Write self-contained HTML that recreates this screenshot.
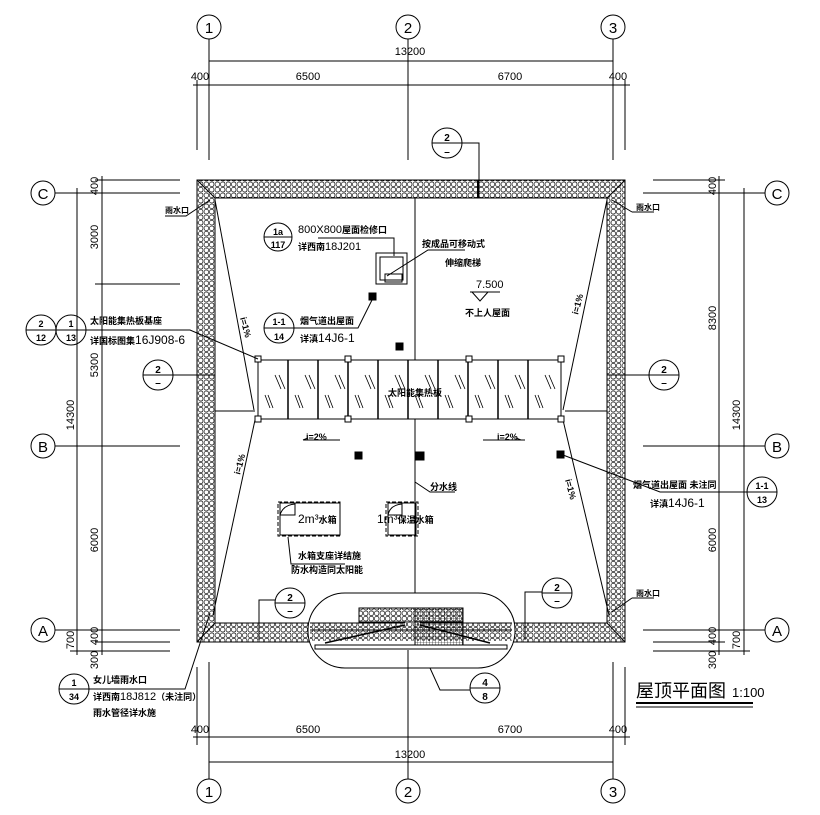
<!DOCTYPE html>
<html><head><meta charset="utf-8"><style>
html,body{margin:0;padding:0;background:#fff}
svg{display:block}
text{font-family:"Liberation Sans","Noto Sans CJK SC",sans-serif;fill:#000}
.c{font-family:"Noto Sans CJK SC","WenQuanYi Zen Hei",sans-serif;font-weight:bold}
</style></head><body>
<svg width="820" height="815" viewBox="0 0 820 815" xmlns="http://www.w3.org/2000/svg">
<defs>
<pattern id="h" width="5.5" height="5.5" patternUnits="userSpaceOnUse">
<rect x="0.6" y="0.6" width="4.3" height="4.3" rx="1.5" fill="none" stroke="#000" stroke-width="0.6"/>
</pattern>
<pattern id="g" width="3" height="3" patternUnits="userSpaceOnUse">
<path d="M0 0H3M0 0V3" stroke="#000" stroke-width="0.6"/>
</pattern>
</defs>
<g stroke="#000" fill="none" stroke-width="1">
<circle cx="209" cy="27" r="12"/><circle cx="408" cy="27" r="12"/><circle cx="613" cy="27" r="12"/>
<circle cx="209" cy="791" r="12"/><circle cx="408" cy="791" r="12"/><circle cx="613" cy="791" r="12"/>
<line x1="209" y1="39" x2="209" y2="95"/><line x1="408" y1="39" x2="408" y2="95"/><line x1="613" y1="39" x2="613" y2="95"/>
<line x1="197" y1="80" x2="197" y2="90"/><line x1="625" y1="80" x2="625" y2="90"/>
<line x1="209" y1="61" x2="613" y2="61"/><line x1="193" y1="85" x2="630" y2="85"/>
<line x1="197" y1="85" x2="197" y2="150"/><line x1="625" y1="85" x2="625" y2="150"/>
<line x1="209" y1="95" x2="209" y2="160"/><line x1="408" y1="95" x2="408" y2="160"/><line x1="613" y1="95" x2="613" y2="160"/>
<line x1="209" y1="662" x2="209" y2="779"/><line x1="408" y1="668" x2="408" y2="779"/><line x1="613" y1="662" x2="613" y2="779"/>
<line x1="197" y1="667" x2="197" y2="745"/><line x1="625" y1="667" x2="625" y2="745"/>
<line x1="193" y1="737" x2="630" y2="737"/><line x1="209" y1="762" x2="613" y2="762"/>
<circle cx="43" cy="193" r="12"/><circle cx="43" cy="446" r="12"/><circle cx="43" cy="630" r="12"/>
<line x1="55" y1="193" x2="180" y2="193"/><line x1="55" y1="446" x2="180" y2="446"/><line x1="55" y1="630" x2="180" y2="630"/>
<line x1="95" y1="180" x2="180" y2="180"/><line x1="95" y1="284" x2="180" y2="284"/>
<line x1="95" y1="642" x2="170" y2="642"/><line x1="70" y1="651" x2="170" y2="651"/>
<line x1="77" y1="188" x2="77" y2="655"/><line x1="102" y1="176" x2="102" y2="655"/>
<circle cx="777" cy="193" r="12"/><circle cx="777" cy="446" r="12"/><circle cx="777" cy="630" r="12"/>
<line x1="643" y1="193" x2="765" y2="193"/><line x1="643" y1="446" x2="765" y2="446"/><line x1="643" y1="630" x2="765" y2="630"/>
<line x1="653" y1="180" x2="725" y2="180"/><line x1="653" y1="642" x2="725" y2="642"/><line x1="653" y1="651" x2="750" y2="651"/>
<line x1="719" y1="176" x2="719" y2="655"/><line x1="744" y1="188" x2="744" y2="655"/>
<path d="M197 180H625V642H197Z M215 198V623H607V198Z" fill="url(#h)" fill-rule="evenodd" stroke="none"/>
<rect x="197" y="180" width="428" height="462"/>
<rect x="215" y="198" width="392" height="425"/>
<line x1="197" y1="180" x2="215" y2="198"/><line x1="625" y1="180" x2="607" y2="198"/>
<line x1="197" y1="642" x2="215" y2="623"/><line x1="625" y1="642" x2="607" y2="623"/>
<line x1="478" y1="180" x2="478" y2="198" stroke-width="2"/>
<line x1="415" y1="198" x2="415" y2="600"/>
<line x1="215" y1="200" x2="254" y2="410"/><line x1="255" y1="420" x2="213" y2="615"/>
<line x1="607" y1="200" x2="563" y2="410"/><line x1="563" y1="420" x2="609" y2="615"/>
<line x1="215" y1="411" x2="255" y2="411"/><line x1="565" y1="411" x2="607" y2="411"/>
<rect x="258" y="360" width="303" height="59" fill="#fff"/>
<g stroke-width="1.5"><line x1="288" y1="360" x2="288" y2="419"/><line x1="318" y1="360" x2="318" y2="419"/><line x1="348" y1="360" x2="348" y2="419"/><line x1="378" y1="360" x2="378" y2="419"/><line x1="408" y1="360" x2="408" y2="419"/><line x1="438" y1="360" x2="438" y2="419"/><line x1="468" y1="360" x2="468" y2="419"/><line x1="498" y1="360" x2="498" y2="419"/><line x1="528" y1="360" x2="528" y2="419"/></g>
<g stroke-width="0.8">
<path d="M275 375l6 14M279 375l6 14M265 395l5 13M268 395l5 13"/>
<path d="M305 375l6 14M309 375l6 14M295 395l5 13M298 395l5 13"/>
<path d="M335 375l6 14M339 375l6 14M325 395l5 13M328 395l5 13"/>
<path d="M365 375l6 14M369 375l6 14M355 395l5 13M358 395l5 13"/>
<path d="M395 375l6 14M399 375l6 14M385 395l5 13M388 395l5 13"/>
<path d="M425 375l6 14M429 375l6 14M415 395l5 13M418 395l5 13"/>
<path d="M455 375l6 14M459 375l6 14M445 395l5 13M448 395l5 13"/>
<path d="M485 375l6 14M489 375l6 14M475 395l5 13M478 395l5 13"/>
<path d="M515 375l6 14M519 375l6 14M505 395l5 13M508 395l5 13"/>
<path d="M545 375l6 14M549 375l6 14M535 395l5 13M538 395l5 13"/>
</g>
<g fill="#fff"><rect x="255" y="356" width="6" height="6"/><rect x="345" y="356" width="6" height="6"/><rect x="466" y="356" width="6" height="6"/><rect x="558" y="356" width="6" height="6"/>
<rect x="255" y="416" width="6" height="6"/><rect x="345" y="416" width="6" height="6"/><rect x="466" y="416" width="6" height="6"/><rect x="558" y="416" width="6" height="6"/></g>
<g fill="#000"><rect x="369" y="293" width="7" height="7"/><rect x="396" y="343" width="7" height="7"/><rect x="355" y="452" width="7" height="7"/><rect x="416" y="452" width="8" height="8"/><rect x="557" y="451" width="7" height="7"/></g>
<rect x="376" y="253" width="31" height="31"/><rect x="380" y="257" width="23" height="23"/><rect x="385" y="274" width="17" height="8"/>
<path d="M318 238H394V256"/><path d="M387 276L428 250H465"/>
<path d="M470 292H500M472 292L480 301L488 292"/>
<g stroke-dasharray="4,2"><rect x="278" y="502" width="62" height="34"/><rect x="386" y="502" width="32" height="34"/></g>
<rect x="280" y="503" width="60" height="32"/><rect x="388" y="503" width="28" height="32"/>
<path d="M280 515Q283 505 295 504V515H280"/><path d="M388 515Q390 505 402 504V515H388"/>
<path d="M288 537L291 564H345"/><path d="M415 482L430 492H455"/>
<path d="M303 440H340M303 440l5 -2M483 440H525M521 440l-5 -2"/>
<rect x="308" y="593" width="207" height="75" rx="37" fill="#fff"/>
<rect x="359" y="608" width="104" height="14" fill="url(#h)"/>
<rect x="415" y="608" width="48" height="40" fill="url(#g)"/>
<path d="M310 623H405M420 623H512M310 630H512" />
<rect x="310" y="623" width="202" height="18" fill="url(#h)" stroke="none"/>
<path d="M325 643L405 625M420 625L490 643" stroke-width="1.5"/>
<rect x="315" y="645" width="192" height="4" fill="#fff"/>
<line x1="408" y1="650" x2="408" y2="668"/>
<path d="M430 668L440 690H470"/>
<circle cx="485" cy="688" r="15"/><line x1="470" y1="688" x2="500" y2="688"/>
<circle cx="447" cy="143" r="15"/><line x1="432" y1="143" x2="462" y2="143"/><path d="M462 143H479V198"/>
<circle cx="158" cy="375" r="15"/><line x1="143" y1="375" x2="173" y2="375"/><line x1="173" y1="375" x2="215" y2="375"/>
<circle cx="664" cy="375" r="15"/><line x1="649" y1="375" x2="679" y2="375"/><line x1="607" y1="375" x2="649" y2="375"/>
<circle cx="290" cy="603" r="15"/><line x1="275" y1="603" x2="305" y2="603"/><path d="M275 600H259V640"/>
<circle cx="557" cy="593" r="15"/><line x1="542" y1="593" x2="572" y2="593"/><path d="M542 592H525V640"/>
<circle cx="278" cy="237" r="14"/><line x1="264" y1="237" x2="292" y2="237"/>
<circle cx="279" cy="328" r="15"/><line x1="264" y1="328" x2="294" y2="328"/><path d="M294 328H358L372 300"/>
<circle cx="41" cy="330" r="15"/><circle cx="71" cy="330" r="15"/><line x1="26" y1="330" x2="56" y2="330"/><path d="M56 330H190L258 359"/>
<circle cx="762" cy="492" r="15"/><line x1="747" y1="492" x2="777" y2="492"/><path d="M747 492H660L563 455"/>
<circle cx="74" cy="689" r="15"/><line x1="59" y1="689" x2="89" y2="689"/><path d="M89 689H185L210 613"/>
<path d="M165 216H186L210 200"/><path d="M632 212H654M632 212L612 200"/>
<path d="M632 598H654M632 598L612 612"/>
<line x1="636" y1="703" x2="753" y2="703" stroke-width="2"/><line x1="636" y1="707" x2="753" y2="707"/>
</g>
<g font-size="15" text-anchor="middle">
<text x="209" y="33">1</text><text x="408" y="33">2</text><text x="613" y="33">3</text>
<text x="209" y="797">1</text><text x="408" y="797">2</text><text x="613" y="797">3</text>
<text x="43" y="199">C</text><text x="43" y="452">B</text><text x="43" y="636">A</text>
<text x="777" y="199">C</text><text x="777" y="452">B</text><text x="777" y="636">A</text>
</g>
<g font-size="11" text-anchor="middle">
<text x="410" y="55">13200</text><text x="200" y="80">400</text><text x="308" y="80">6500</text><text x="510" y="80">6700</text><text x="618" y="80">400</text>
<text x="200" y="733">400</text><text x="308" y="733">6500</text><text x="510" y="733">6700</text><text x="618" y="733">400</text><text x="410" y="758">13200</text>
<text transform="translate(98,186) rotate(-90)">400</text>
<text transform="translate(98,237) rotate(-90)">3000</text>
<text transform="translate(98,365) rotate(-90)">5300</text>
<text transform="translate(74,415) rotate(-90)">14300</text>
<text transform="translate(98,540) rotate(-90)">6000</text>
<text transform="translate(98,636) rotate(-90)">400</text>
<text transform="translate(74,640) rotate(-90)">700</text>
<text transform="translate(98,660) rotate(-90)">300</text>
<text transform="translate(716,186) rotate(-90)">400</text>
<text transform="translate(716,318) rotate(-90)">8300</text>
<text transform="translate(740,415) rotate(-90)">14300</text>
<text transform="translate(716,540) rotate(-90)">6000</text>
<text transform="translate(716,636) rotate(-90)">400</text>
<text transform="translate(740,640) rotate(-90)">700</text>
<text transform="translate(716,660) rotate(-90)">300</text>
</g>
<g font-size="10" text-anchor="middle" font-weight="bold">
<text x="447" y="141">2</text><text x="447" y="155">–</text>
<text x="158" y="373">2</text><text x="158" y="386">–</text>
<text x="664" y="373">2</text><text x="664" y="386">–</text>
<text x="290" y="601">2</text><text x="290" y="614">–</text>
<text x="557" y="591">2</text><text x="557" y="604">–</text>
<text x="485" y="686">4</text><text x="485" y="700">8</text>
<text x="278" y="235" font-size="9">1a</text><text x="278" y="248" font-size="9">117</text>
<text x="279" y="325" font-size="9">1-1</text><text x="279" y="340" font-size="9">14</text>
<text x="41" y="327" font-size="9">2</text><text x="41" y="341" font-size="9">12</text>
<text x="71" y="327" font-size="9">1</text><text x="71" y="341" font-size="9">13</text>
<text x="762" y="489" font-size="9">1-1</text><text x="762" y="503" font-size="9">13</text>
<text x="74" y="686" font-size="9">1</text><text x="74" y="700" font-size="9">34</text>
</g>
<g font-size="9" class="c">
<text x="298" y="233"><tspan font-family="Liberation Sans" font-weight="normal" font-size="11">800X800</tspan>屋面检修口</text>
<text x="298" y="250">详西南<tspan font-family="Liberation Sans" font-weight="normal" font-size="11">18J201</tspan></text>
<text x="422" y="247">按成品可移动式</text><text x="445" y="266">伸缩爬梯</text>
<text x="476" y="288" font-family="Liberation Sans" font-weight="normal" font-size="11">7.500</text>
<text x="465" y="316">不上人屋面</text>
<text x="300" y="324">烟气道出屋面</text>
<text x="300" y="342">详滇<tspan font-family="Liberation Sans" font-weight="normal" font-size="12">14J6-1</tspan></text>
<text x="90" y="324">太阳能集热板基座</text>
<text x="90" y="344">详国标图集<tspan font-family="Liberation Sans" font-weight="normal" font-size="12">16J908-6</tspan></text>
<text x="388" y="396">太阳能集热板</text>
<text x="306" y="440">i=2%</text><text x="497" y="440">i=2%</text>
<text x="430" y="490">分水线</text>
<text x="298" y="523"><tspan font-family="Liberation Sans" font-weight="normal" font-size="12">2m³</tspan>水箱</text>
<text x="377" y="523"><tspan font-family="Liberation Sans" font-weight="normal" font-size="12">1m³</tspan>保温水箱</text>
<text x="298" y="559">水箱支座详结施</text><text x="291" y="573">防水构造同太阳能</text>
<text x="633" y="488">烟气道出屋面 未注同</text>
<text x="650" y="507">详滇<tspan font-family="Liberation Sans" font-weight="normal" font-size="12">14J6-1</tspan></text>
<text x="93" y="683">女儿墙雨水口</text>
<text x="93" y="700">详西南<tspan font-family="Liberation Sans" font-weight="normal" font-size="11">18J812</tspan>（未注同）</text>
<text x="93" y="716">雨水管径详水施</text>
<text x="165" y="213" font-size="8">雨水口</text><text x="636" y="210" font-size="8">雨水口</text><text x="636" y="596" font-size="8">雨水口</text>
<text transform="translate(240,318) rotate(75)">i=1%</text>
<text transform="translate(578,315) rotate(-75)">i=1%</text>
<text transform="translate(240,475) rotate(-75)">i=1%</text>
<text transform="translate(565,480) rotate(75)">i=1%</text>
</g>
<text x="636" y="697" font-size="18" font-family="Noto Sans CJK SC, sans-serif">屋顶平面图</text>
<text x="732" y="697" font-size="13">1:100</text>
</svg>
</body></html>
